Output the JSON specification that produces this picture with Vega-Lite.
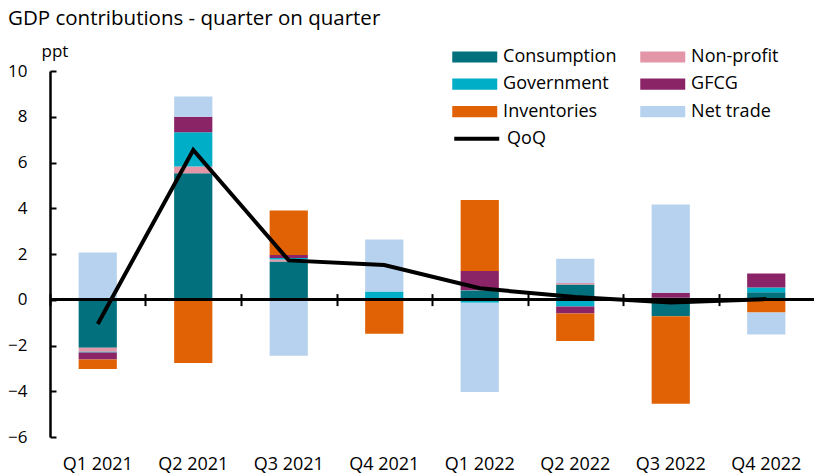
{
  "$schema": "https://vega.github.io/schema/vega-lite/v6.json",
  "width": 764,
  "height": 366,
  "autosize": {"type": "none"},
  "padding": {"left": 50, "top": 71, "right": 0, "bottom": 38},
  "background": "white",
  "config": {
    "font": "Open Sans",
    "view": {"stroke": null},
    "axis": {"labelColor": "black", "titleColor": "black", "grid": false}
  },
  "title": {
    "text": "GDP contributions - quarter on quarter",
    "anchor": "start",
    "frame": "group",
    "fontSize": 20.5,
    "fontWeight": "normal",
    "color": "black",
    "baseline": "alphabetic",
    "dx": -42,
    "dy": 17.75,
    "offset": 14
  },
  "datasets": {
    "series_rank": [
      {"series": "Consumption", "rank": 1},
      {"series": "Non-profit", "rank": 2},
      {"series": "Government", "rank": 3},
      {"series": "GFCG", "rank": 4},
      {"series": "Inventories", "rank": 5},
      {"series": "Net trade", "rank": 6}
    ],
    "bars": [
      {"quarter": "Q1 2021", "series": "Consumption", "value": -2.1},
      {"quarter": "Q1 2021", "series": "Non-profit", "value": -0.17},
      {"quarter": "Q1 2021", "series": "Government", "value": -0.04},
      {"quarter": "Q1 2021", "series": "GFCG", "value": -0.3},
      {"quarter": "Q1 2021", "series": "Inventories", "value": -0.42},
      {"quarter": "Q1 2021", "series": "Net trade", "value": 2.07},
      {"quarter": "Q2 2021", "series": "Consumption", "value": 5.53},
      {"quarter": "Q2 2021", "series": "Non-profit", "value": 0.29},
      {"quarter": "Q2 2021", "series": "Government", "value": 1.5},
      {"quarter": "Q2 2021", "series": "GFCG", "value": 0.68},
      {"quarter": "Q2 2021", "series": "Inventories", "value": -2.77},
      {"quarter": "Q2 2021", "series": "Net trade", "value": 0.89},
      {"quarter": "Q3 2021", "series": "Consumption", "value": 1.67},
      {"quarter": "Q3 2021", "series": "Non-profit", "value": 0.09},
      {"quarter": "Q3 2021", "series": "Government", "value": 0.07},
      {"quarter": "Q3 2021", "series": "GFCG", "value": 0.13},
      {"quarter": "Q3 2021", "series": "Inventories", "value": 1.94},
      {"quarter": "Q3 2021", "series": "Net trade", "value": -2.45},
      {"quarter": "Q4 2021", "series": "Consumption", "value": 0.0},
      {"quarter": "Q4 2021", "series": "Non-profit", "value": 0.0},
      {"quarter": "Q4 2021", "series": "Government", "value": 0.36},
      {"quarter": "Q4 2021", "series": "GFCG", "value": 0.0},
      {"quarter": "Q4 2021", "series": "Inventories", "value": -1.49},
      {"quarter": "Q4 2021", "series": "Net trade", "value": 2.27},
      {"quarter": "Q1 2022", "series": "Consumption", "value": 0.41},
      {"quarter": "Q1 2022", "series": "Non-profit", "value": 0.02},
      {"quarter": "Q1 2022", "series": "Government", "value": -0.13},
      {"quarter": "Q1 2022", "series": "GFCG", "value": 0.83},
      {"quarter": "Q1 2022", "series": "Inventories", "value": 3.1},
      {"quarter": "Q1 2022", "series": "Net trade", "value": -3.9},
      {"quarter": "Q2 2022", "series": "Consumption", "value": 0.67},
      {"quarter": "Q2 2022", "series": "Non-profit", "value": 0.06},
      {"quarter": "Q2 2022", "series": "Government", "value": -0.3},
      {"quarter": "Q2 2022", "series": "GFCG", "value": -0.3},
      {"quarter": "Q2 2022", "series": "Inventories", "value": -1.2},
      {"quarter": "Q2 2022", "series": "Net trade", "value": 1.06},
      {"quarter": "Q3 2022", "series": "Consumption", "value": -0.72},
      {"quarter": "Q3 2022", "series": "Non-profit", "value": 0.04},
      {"quarter": "Q3 2022", "series": "Government", "value": 0.05},
      {"quarter": "Q3 2022", "series": "GFCG", "value": 0.2},
      {"quarter": "Q3 2022", "series": "Inventories", "value": -3.83},
      {"quarter": "Q3 2022", "series": "Net trade", "value": 3.87},
      {"quarter": "Q4 2022", "series": "Consumption", "value": 0.33},
      {"quarter": "Q4 2022", "series": "Non-profit", "value": 0.0},
      {"quarter": "Q4 2022", "series": "Government", "value": 0.21},
      {"quarter": "Q4 2022", "series": "GFCG", "value": 0.61},
      {"quarter": "Q4 2022", "series": "Inventories", "value": -0.56},
      {"quarter": "Q4 2022", "series": "Net trade", "value": -0.96}
    ],
    "qoq": [
      {"quarter": "Q1 2021", "series": "QoQ", "value": -1.06},
      {"quarter": "Q2 2021", "series": "QoQ", "value": 6.55},
      {"quarter": "Q3 2021", "series": "QoQ", "value": 1.72},
      {"quarter": "Q4 2021", "series": "QoQ", "value": 1.52},
      {"quarter": "Q1 2022", "series": "QoQ", "value": 0.5},
      {"quarter": "Q2 2022", "series": "QoQ", "value": 0.12},
      {"quarter": "Q3 2022", "series": "QoQ", "value": -0.12},
      {"quarter": "Q4 2022", "series": "QoQ", "value": 0.03}
    ]
  },
  "resolve": {"axis": {"x": "independent"}},
  "layer": [
    {
      "data": {"name": "bars"},
      "transform": [
        {"lookup": "series", "from": {"data": {"name": "series_rank"}, "key": "series", "fields": ["rank"]}}
      ],
      "mark": {"type": "bar"},
      "encoding": {
        "x": {
          "field": "quarter", "type": "nominal", "sort": null,
          "scale": {"paddingInner": 0.6, "paddingOuter": 0.3},
          "axis": {"orient": "bottom", "title": null, "ticks": false, "domain": false, "labelAngle": 0, "labelFontSize": 18, "labelBaseline": "alphabetic", "labelPadding": 32}
        },
        "y": {
          "field": "value", "type": "quantitative", "stack": "zero",
          "scale": {"domain": [-6, 10], "nice": false},
          "axis": {
            "values": [-6, -4, -2, 0, 2, 4, 6, 8, 10],
            "title": "ppt", "titleAngle": 0, "titleAlign": "left", "titleBaseline": "alphabetic",
            "titleX": -9, "titleY": -15, "titleFontSize": 17, "titleFontWeight": "normal",
            "labelFontSize": 17, "labelPadding": 29,
            "domainColor": "black", "domainWidth": 2.5,
            "tickColor": "black", "tickWidth": 2, "tickSize": -6
          }
        },
        "order": {"field": "rank", "type": "quantitative", "sort": "ascending"},
        "color": {
          "field": "series", "type": "nominal",
          "scale": {
            "domain": ["Consumption", "Government", "Inventories", "Non-profit", "GFCG", "Net trade"],
            "range": ["#02717D", "#00AEC7", "#E06205", "#E396A8", "#8A2466", "#B7D2EE"]
          },
          "legend": {
            "title": null, "orient": "none", "legendX": 413.25, "legendY": -25.75, "columns": 2,
            "padding": 0, "labelFontSize": 18, "labelColor": "black", "labelOffset": 16.85,
            "columnPadding": 23, "rowPadding": 6.45,
            "symbolType": "M-2,-0.5H2V0.5H-2Z", "symbolSize": 506, "symbolStrokeWidth": 0, "symbolOpacity": 1
          }
        }
      }
    },
    {
      "data": {"name": "bars"},
      "mark": {"type": "rule", "color": "black", "strokeWidth": 2},
      "encoding": {"y": {"datum": 0}}
    },
    {
      "data": {"name": "qoq"},
      "mark": {"type": "line", "strokeWidth": 4},
      "encoding": {
        "x": {
          "field": "quarter", "type": "nominal", "sort": null,
          "axis": {"orient": "bottom", "title": null, "labels": false, "domain": false, "offset": -143.4, "ticks": true, "tickSize": 12, "tickWidth": 2, "tickColor": "black", "bandPosition": 0.5, "tickOffset": -47.75}
        },
        "y": {"field": "value", "type": "quantitative"},
        "stroke": {
          "field": "series", "type": "nominal",
          "scale": {"domain": ["QoQ"], "range": ["black"]},
          "legend": {
            "title": null, "orient": "none", "legendX": 413.25, "legendY": 54.25,
            "padding": 0, "labelFontSize": 18, "labelColor": "black", "labelOffset": 16.85,
            "symbolType": "M-2,0H2", "symbolSize": 506, "symbolStrokeWidth": 4
          }
        }
      }
    }
  ]
}
